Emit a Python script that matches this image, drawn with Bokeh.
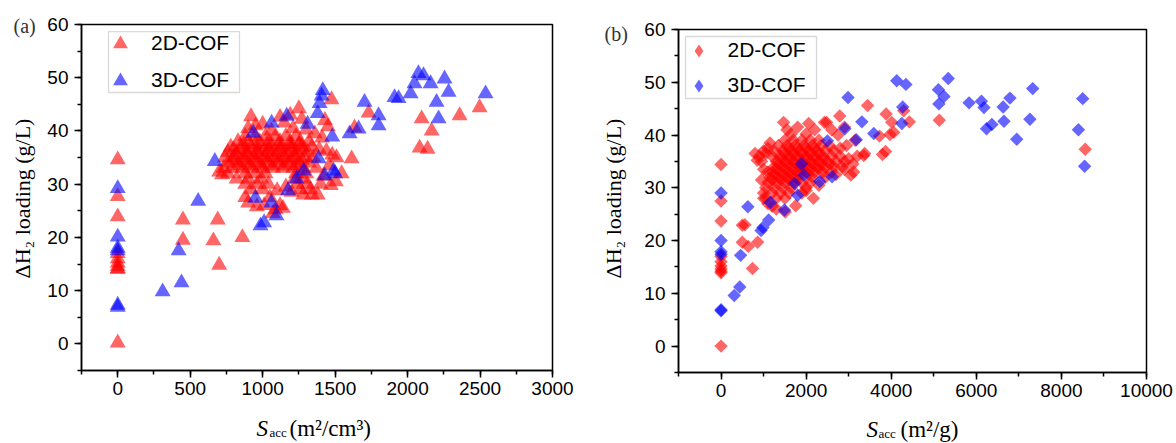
from bokeh.plotting import figure
from bokeh.layouts import row, column
from bokeh.models import (Range1d, SingleIntervalTicker, Label, Legend,
                          LegendItem, BoxAnnotation)
from bokeh.embed import file_html
from bokeh.resources import INLINE
import math

# ---------------- data: panel (a)  S_acc (m2/cm3) vs dH2 (g/L) ----------------
a2_x = [0, 0, 0, 0, 0, 0, 0, 0, 0, 0,
        450, 450, 690, 660, 700, 860, 700, 720,
        880, 950, 1020, 1090, 1160, 1230,
        830, 900, 980, 1050, 1120, 1190, 1260, 1320,
        780, 850, 920, 990, 1060, 1130, 1200, 1270, 1340,
        760, 820, 890, 960, 1030, 1100, 1170, 1240, 1310,
        740, 800, 870, 940, 1010, 1080, 1150, 1220, 1290, 1350,
        760, 830, 900, 970, 1040, 1110, 1180, 1250, 1320,
        730, 790, 860, 930, 1000, 1070, 1140, 1210, 1280,
        760, 880, 950, 1020, 1230, 1300,
        820, 900, 990, 1220, 1280,
        880, 960, 1040, 1240, 1310,
        920, 1000, 1260, 1330,
        1280, 1340,
        820, 900, 980, 1060, 1140, 1220,
        800, 880, 960, 1040, 1120, 1200, 1280,
        790, 870, 950, 1030, 1110, 1190, 1270,
        830, 910, 990, 1070, 1150, 1230,
        870, 950, 1030, 1110, 1190, 1250,
        1050, 1010, 960, 900, 880, 1120, 1090, 1140, 1070, 1100, 1160, 1200,
        920, 950, 900, 1000, 1060, 1120, 1150, 1190, 1250, 1270, 1210, 1300,
        1360, 1410, 1390, 1430, 1450, 1440, 1460, 1420, 1370, 1400, 1480, 1510,
        1475, 1614, 1545, 1505, 1470, 1380, 1731, 1634, 2097, 2083, 2138, 2166,
        2359, 2497]
a2_y = [34.6, 27.7, 23.9, 17.0, 16.0, 15.2, 14.6, 14.2, 14.0, 0.2,
        23.3, 19.5, 23.3, 19.4, 14.8, 20.0, 32.3, 31.8,
        39, 39, 39, 39, 39, 39,
        38, 38, 38, 38, 38, 38, 38, 38,
        37, 37, 37, 37, 37, 37, 37, 37, 37,
        36, 36, 36, 36, 36, 36, 36, 36, 36,
        35, 35, 35, 35, 35, 35, 35, 35, 35, 35,
        34, 34, 34, 34, 34, 34, 34, 34, 34,
        33, 33, 33, 33, 33, 33, 33, 33, 33,
        32, 32, 32, 32, 32, 32,
        31, 31, 31, 31, 31,
        30, 30, 30, 30, 30,
        29, 29, 29, 29,
        28, 28,
        35.5, 35.5, 35.5, 35.5, 35.5, 35.5,
        36.5, 36.5, 36.5, 36.5, 36.5, 36.5, 36.5,
        34.5, 34.5, 34.5, 34.5, 34.5, 34.5, 34.5,
        33.5, 33.5, 33.5, 33.5, 33.5, 33.5,
        37.5, 37.5, 37.5, 37.5, 37.5, 37.5,
        27.5, 26.0, 25.8, 26.5, 27.5, 26.0, 25.2, 25.5, 24.5, 28.8, 29.5, 28.5,
        42.7, 41.0, 40.5, 41.3, 40.0, 42.6, 41.5, 43.0, 44.2, 42.2, 40.5, 40.2,
        39.5, 38.7, 36.5, 42.0, 40.8, 36.2, 33.5, 31.5, 33.0, 30.0, 35.5, 35.0,
        45.9, 34.8, 32.0, 30.5, 29.8, 28.0, 43.4, 40.6, 42.3, 36.8, 36.6, 40.0,
        42.9, 44.4]

a3_x = [0, 0, 0, 0, 0, 0,
        310, 440, 420, 555, 670, 935, 950, 985, 1010, 1060, 1095, 1062, 1166,
        1175, 1234, 1283, 1310, 1386, 1380, 1407, 1415, 1393, 1428, 1480, 1490,
        1500, 1600, 1662, 1703, 1800, 1800, 1910, 1938, 2021, 2048, 2075, 2110,
        2159, 2200, 2214, 2255, 2283, 2538]
a3_y = [29.2, 20.1, 18.0, 17.5, 7.3, 6.9,
        9.8, 11.5, 17.5, 26.8, 34.3, 39.6, 27.4, 22.2, 22.8, 26.5, 24.1, 41.5, 42.8,
        28.8, 31.0, 32.5, 41.3, 34.8, 43.3, 46.6, 47.6, 45.2, 31.6, 38.9, 32.5,
        32.0, 39.5, 40.4, 45.4, 42.9, 41.0, 46.3, 46.1, 47.0, 48.9, 50.8, 50.4,
        48.9, 45.4, 42.3, 49.8, 47.3, 47.0]

# ---------------- data: panel (b)  S_acc (m2/g) vs dH2 (g/L) ----------------
b2_x = [0, 0, 0, 0, 0, 0, 0, 0, 0, 0,
        500, 560, 500, 640, 740, 860,
        1500, 1700, 1900, 2100, 2300,
        1350, 1550, 1750, 1950, 2150, 2350, 2550,
        1250, 1450, 1650, 1850, 2050, 2250, 2450, 2650,
        1200, 1400, 1600, 1800, 2000, 2200, 2400, 2600, 2800,
        1300, 1500, 1700, 1900, 2100, 2300, 2500, 2700, 2900,
        1250, 1450, 1650, 1850, 2050, 2250, 2450, 2650, 2850,
        1200, 1400, 1600, 1800, 2000, 2200, 2400, 2600,
        1150, 1350, 1550, 1750, 2150, 2450,
        1100, 1300, 1500, 1700, 1900, 2100,
        1050, 1250, 1450, 1650, 2000,
        1000, 1200, 1400, 1600,
        1050, 1300, 1500,
        1400, 1600, 1800, 2000, 2200, 2400,
        1500, 1700, 1900, 2100, 2300,
        1350, 1550, 1750, 1950, 2150, 2350, 2550,
        1300, 1500, 1700, 1900, 2100, 2300,
        1250, 1450, 1650, 1850, 2050,
        1200, 1400, 1600, 1800,
        1600, 1800, 2000, 2200,
        800, 900, 1000, 1050, 850, 950, 1100, 1150, 1000, 1100, 950, 1000,
        1100, 1200, 1300,
        1470, 1550, 1650, 1800, 2060, 2200, 2000, 2480, 2600, 2790, 2900, 2750,
        3000, 3100, 3050, 3117, 3200, 3376, 3150, 2950, 2800, 2900, 2700,
        2170, 1755, 1510, 2000, 2300, 1900,
        3445, 3880, 2430, 3355, 3795, 3865, 3970, 3725, 4012, 4294, 4425,
        4060, 5130, 8560]
b2_y = [34.4, 27.5, 23.7, 17.0, 16.0, 15.2, 14.6, 14.2, 13.9, 0.0,
        22.9, 23.0, 19.7, 18.9, 14.7, 19.7,
        39, 39, 39, 39, 39,
        38, 38, 38, 38, 38, 38, 38,
        37, 37, 37, 37, 37, 37, 37, 37,
        36, 36, 36, 36, 36, 36, 36, 36, 36,
        35, 35, 35, 35, 35, 35, 35, 35, 35,
        34, 34, 34, 34, 34, 34, 34, 34, 34,
        33, 33, 33, 33, 33, 33, 33, 33,
        32, 32, 32, 32, 32, 32,
        31, 31, 31, 31, 31, 31,
        30, 30, 30, 30, 30,
        29, 29, 29, 29,
        28, 28, 28,
        35.5, 35.5, 35.5, 35.5, 35.5, 35.5,
        36.5, 36.5, 36.5, 36.5, 36.5,
        34.5, 34.5, 34.5, 34.5, 34.5, 34.5, 34.5,
        33.5, 33.5, 33.5, 33.5, 33.5, 33.5,
        32.5, 32.5, 32.5, 32.5, 32.5,
        31.5, 31.5, 31.5, 31.5,
        37.5, 37.5, 37.5, 37.5,
        36.5, 36.0, 37.0, 36.5, 35.2, 35.0, 37.5, 38.5, 33.5, 33.0, 31.5, 28.0,
        27.0, 26.5, 26.0,
        42.4, 41.0, 40.2, 41.5, 42.2, 41.0, 40.2, 42.4, 41.0, 43.6, 41.5, 40.0,
        35.5, 34.5, 32.4, 33.0, 36.0, 36.5, 39.0, 38.0, 37.5, 33.5, 32.5,
        28.0, 26.6, 25.4, 29.5, 30.5, 29.0,
        45.6, 44.0, 42.4, 36.1, 36.3, 36.9, 40.1, 39.8, 42.4, 44.6, 42.5,
        40.5, 42.8, 37.3]

b3_x = [0, 0, 0, 0, 0, 0,
        310, 440, 460, 630, 940, 985, 1120, 1160, 1490, 1730, 1800, 1890, 1950,
        2320, 2610, 2500, 2910, 2985, 3180, 3310, 3590, 4130, 4345, 4270, 4250,
        5110, 5120, 5240, 5340, 5830, 6120, 6180, 6240, 6365, 6630, 6650, 6790,
        6950, 7260, 7325, 8400, 8500, 8545]
b3_y = [29.0, 20.0, 17.9, 17.4, 6.9, 6.7,
        9.6, 11.2, 17.2, 26.4, 21.9, 22.5, 23.9, 27.2, 25.8, 30.8, 28.6, 34.5, 32.4,
        31.2, 32.1, 38.9, 41.2, 47.1, 39.1, 42.5, 40.3, 50.3, 49.6, 45.3, 42.2,
        48.6, 45.9, 47.3, 50.7, 46.1, 46.4, 45.2, 41.2, 42.0, 45.3, 42.6, 47.0,
        39.2, 43.0, 48.8, 41.0, 46.9, 34.1]

series_labels = ["2D-COF", "3D-COF"]
y_label = "ΔH₂ loading (g/L)"
x_units_a = "(m²/cm³)"
x_units_b = "(m²/g)"
x_ticks_a = 500
x_ticks_b = 2000

RED = "#ff0000"
BLUE = "#0000ff"
SANS = "Liberation Sans"
SERIF = "Liberation Serif"
NAN = float("nan")


def make_fig(xr, xint, fw, fh, bl, br, bt, bb):
    p = figure(frame_width=fw, frame_height=fh,
               x_range=Range1d(*xr), y_range=Range1d(-5, 60),
               min_border_left=bl, min_border_right=br,
               min_border_top=bt, min_border_bottom=bb,
               output_backend="svg", toolbar_location=None)
    p.xgrid.visible = False
    p.ygrid.visible = False
    p.outline_line_color = "black"
    p.outline_line_width = 1.5
    p.outline_line_alpha = 1.0
    p.xaxis.ticker = SingleIntervalTicker(interval=xint, num_minor_ticks=2)
    p.yaxis.ticker = SingleIntervalTicker(interval=10, num_minor_ticks=2)
    for ax in (p.xaxis[0], p.yaxis[0]):
        ax.axis_line_width = 1.5
        ax.axis_line_color = "black"
        ax.major_tick_line_width = 1.5
        ax.minor_tick_line_width = 1.5
        ax.major_tick_line_color = "black"
        ax.minor_tick_line_color = "black"
        ax.major_tick_out = 7
        ax.major_tick_in = 0
        ax.minor_tick_out = 4
        ax.minor_tick_in = 0
        ax.major_label_text_font = SANS
        ax.major_label_text_font_size = "19px"
        ax.major_label_text_color = "black"
    p.xaxis[0].major_label_standoff = 4
    p.yaxis[0].major_label_standoff = 6
    return p


def strip(w, h):
    f = figure(frame_width=w, frame_height=h, x_range=Range1d(0, w),
               y_range=Range1d(0, h), x_axis_type=None, y_axis_type=None,
               min_border=0, min_border_left=0, min_border_right=0,
               min_border_top=0, min_border_bottom=0,
               output_backend="svg", toolbar_location=None)
    f.outline_line_color = None
    return f


def add_xlabel(f, xs, ymain, ysub, unit):
    f.add_layout(Label(x=xs[0], y=ymain, text="S", text_font=SERIF,
                       text_font_style="italic", text_font_size="23px",
                       text_align="left", text_baseline="alphabetic",
                       text_color="black"))
    f.add_layout(Label(x=xs[1], y=ysub, text="acc", text_font=SERIF,
                       text_font_size="13px", text_align="left",
                       text_baseline="alphabetic", text_color="black"))
    f.add_layout(Label(x=xs[2], y=ymain, text=unit, text_font=SERIF,
                       text_font_size="23px", text_align="left",
                       text_baseline="alphabetic", text_color="black"))


def add_left_texts(f, tag, tag_x, tag_y, ylab_x, ylab_y):
    f.add_layout(Label(x=tag_x, y=tag_y, text=tag, text_font=SERIF,
                       text_font_size="20px", text_align="left",
                       text_baseline="middle", text_color="#333333"))
    f.add_layout(Label(x=ylab_x, y=ylab_y, text=y_label, text_font=SERIF,
                       text_font_size="22px", angle=math.pi / 2,
                       text_align="center", text_baseline="middle",
                       text_color="black"))


H_TOTAL = 442          # page height used (window 443)
H_PLOT = 406           # height of the plot figures; x-label strip below
XS = 38                # measured horizontal offset of the label strips

# ---------------- panel (a) ----------------
pa = make_fig((-250, 3000), x_ticks_a, 471, 346, 36, 35, 24, H_PLOT - 24 - 346)
ra2 = pa.scatter(a2_x, a2_y, marker="triangle", size=16, fill_color=RED,
                 fill_alpha=0.6, line_color=None)
ra3 = pa.scatter(a3_x, a3_y, marker="triangle", size=16, fill_color=BLUE,
                 fill_alpha=0.6, line_color=None)
pa.add_layout(BoxAnnotation(left=-63.7, right=840.3, top=58.68, bottom=47.23,
                            fill_color="white", fill_alpha=1.0,
                            line_color="#808080", line_width=1.3,
                            level="underlay"))
leg_a = Legend(items=[LegendItem(label=series_labels[0], renderers=[ra2]),
                      LegendItem(label=series_labels[1], renderers=[ra3])],
               location=(20, 271.5), orientation="vertical",
               border_line_color=None, background_fill_alpha=0.0,
               padding=0, spacing=0, margin=0,
               glyph_width=38, glyph_height=37, label_height=37,
               label_standoff=12, label_text_font=SANS,
               label_text_font_size="21px", label_text_color="black")
pa.add_layout(leg_a)

la = strip(44, H_TOTAL)
add_left_texts(la, "(a)", 13, H_TOTAL - 25, 22, H_TOTAL - 198)
ba = strip(542, H_TOTAL - H_PLOT)
add_xlabel(ba, (213 - XS, 226 - XS, 246 - XS), H_TOTAL - 428, H_TOTAL - 432,
           x_units_a)

# ---------------- panel (b) ----------------
pb = make_fig((-1000, 10000), x_ticks_b, 468, 343, 37, 30, 29, H_PLOT - 29 - 343)
rb2 = pb.scatter(b2_x, b2_y, marker="square", angle=math.pi / 4, size=9.5,
                 fill_color=RED, fill_alpha=0.6, line_color=None)
rb3 = pb.scatter(b3_x, b3_y, marker="square", angle=math.pi / 4, size=9.5,
                 fill_color=BLUE, fill_alpha=0.6, line_color=None)
# legend-only renderers (one NaN point, nothing drawn) to get diamond glyphs
lb2 = pb.scatter([NAN], [NAN], marker="diamond", fill_color=RED,
                 fill_alpha=0.6, line_color=None)
lb3 = pb.scatter([NAN], [NAN], marker="diamond", fill_color=BLUE,
                 fill_alpha=0.6, line_color=None)
pb.add_layout(BoxAnnotation(left=-835.5, right=2243.6, top=58.67, bottom=46.92,
                            fill_color="white", fill_alpha=1.0,
                            line_color="#808080", line_width=1.3,
                            level="underlay"))
leg_b = Legend(items=[LegendItem(label=series_labels[0], renderers=[lb2]),
                      LegendItem(label=series_labels[1], renderers=[lb3])],
               location=(3.5, 269.5), orientation="vertical",
               border_line_color=None, background_fill_alpha=0.0,
               padding=0, spacing=0, margin=0,
               glyph_width=33, glyph_height=35, label_height=35,
               label_standoff=13, label_text_font=SANS,
               label_text_font_size="21px", label_text_color="black")
pb.add_layout(leg_b)

lb = strip(54, H_TOTAL)
add_left_texts(lb, "(b)", 17, H_TOTAL - 33, 26, H_TOTAL - 198)
bb = strip(535, H_TOTAL - H_PLOT)
add_xlabel(bb, (226 - XS, 238 - XS, 260 - XS), H_TOTAL - 429, H_TOTAL - 433,
           x_units_b)

layout = row(la, column(pa, ba), lb, column(pb, bb))
open("out.html", "w").write(file_html(layout, INLINE))
